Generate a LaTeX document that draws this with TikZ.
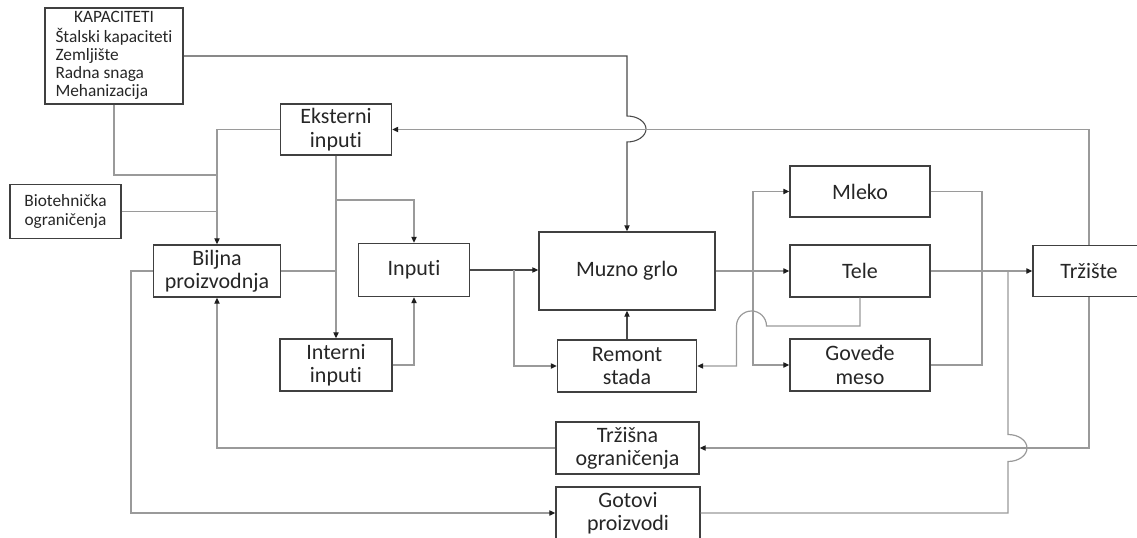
\documentclass[tikz,border=0pt]{standalone}
\usepackage{fontspec}
\setmainfont{Carlito}[Ligatures={NoCommon,NoContextual},RawFeature={-liga;-clig}]
\usetikzlibrary{arrows.meta}
\definecolor{boxc}{HTML}{404040}
\definecolor{textc}{HTML}{262626}
\definecolor{linec}{HTML}{9A9A9A}
\definecolor{darkc}{HTML}{4A4A4A}
\definecolor{tipc}{HTML}{1E1E1E}
\begin{document}
\begin{tikzpicture}[x=0.75pt,y=-0.75pt,
  wh/.style 2 args={minimum width=0.75pt*#1,minimum height=0.75pt*#2},
  box/.style={draw=boxc,line width=1.1pt,inner sep=0pt,align=center,text=textc,
    font=\fontsize{16.5}{17.5}\selectfont},
  smallbox/.style={box,font=\fontsize{13}{14.3}\selectfont},
  conn/.style={draw=linec,line width=0.9pt},
  dconn/.style={draw=darkc,line width=0.8pt},
  arr/.style={-{Triangle[length=4.5pt,width=4pt,color=tipc]}}]
\useasboundingbox (0,0) rectangle (1137,538);
\clip (0,0) rectangle (1137,538);

% boxes
\node[smallbox,wh={138}{96},font=\fontsize{13}{13.5}\selectfont] (kap) at (114,56)
  {\begin{tabular}{@{}l@{}}\multicolumn{1}{@{}c@{}}{KAPACITETI}\\ Štalski kapaciteti\\ Zemljište\\ Radna snaga\\ Mehanizacija\end{tabular}};
\node[smallbox,wh={111}{54}] (bio) at (65.5,211.5) {Biotehnička\\ograničenja};
\node[box,wh={111}{51}] (eks) at (336,129.5) {Eksterni\\inputi};
\node[box,wh={127}{52}] (bilj) at (217,271) {Biljna\\proizvodnja};
\node[box,wh={111}{53}] (inp) at (414,270) {Inputi};
\node[box,wh={112}{52}] (int) at (336,365) {Interni\\inputi};
\node[box,wh={176}{78}] (muz) at (627,271) {Muzno grlo};
\node[box,wh={139}{52}] (rem) at (627,366) {Remont\\stada};
\node[box,wh={140}{51}] (mle) at (860,191.5) {Mleko};
\node[box,wh={140}{52}] (tel) at (860,271) {Tele};
\node[box,wh={140}{52}] (gov) at (860,365) {Goveđe\\meso};
\node[box,wh={112}{51}] (trz) at (1089,271) {Tržište};
\node[box,wh={143}{52}] (tro) at (627.5,448) {Tržišna\\ograničenja};
\node[box,wh={144}{52}] (got) at (628,513) {Gotovi\\proizvodi};

% capacities feed the dairy animal, hopping over the market line
\draw[dconn,arr] (kap.east) -- (627,56) -- (627,116)
  arc[start angle=-90,end angle=90,x radius=19,y radius=13] -- (muz.north);
% market back to external inputs
\draw[conn,arr] (trz.north) -- (1089,129.5) -- (eks.east);
% into crop production
\draw[conn,arr] (eks.west) -- (217,129.5) -- (bilj.north);
\draw[conn] (kap.south) -- (114,175) -- (217,175);
\draw[conn] (bio.east) -- (217,211.5);
% external inputs split
\draw[conn,arr] (eks.south) -- (int.north);
\draw[conn,arr] (336,200) -- (414,200) -- (inp.north);
\draw[conn] (bilj.east) -- (336,271);
\draw[conn,arr] (int.east) -- (414,365) -- (inp.south);
% inputs to the herd
\draw[dconn,arr] (inp.east) -- (muz.west |- inp.east);
\draw[conn,arr] (514,270) |- (rem.west);
\draw[dconn,arr] (rem.north) -- (muz.south);
% outputs of the dairy animal
\draw[conn,arr] (muz.east) -- (tel.west);
\draw[conn,arr] (753,271) |- (mle.west);
\draw[conn,arr] (753,271) |- (gov.west);
\draw[conn] (mle.east) -- (982,191.5) -- (982,365) -- (gov.east);
\draw[conn,arr] (tel.east) -- (trz.west);
% calves back to herd replacement
\draw[conn,arr] (tel.south) -- (860,326) -- (766.5,326)
  arc[start angle=0,end angle=-180,radius=15] -- (736.5,366) -- (rem.east);
% market constraints
\draw[conn,arr] (trz.south) -- (1089,448) -- (tro.east);
\draw[conn,arr] (tro.west) -- (217,448) -- (bilj.south);
% finished products to market
\draw[conn,arr] (bilj.west) -- (131,271) -- (131,513) -- (got.west);
\draw[conn] (got.east) -- (1008,513) -- (1008,461.5)
  arc[start angle=90,end angle=-90,x radius=19,y radius=13.5] -- (1008,271);
\end{tikzpicture}
\end{document}
